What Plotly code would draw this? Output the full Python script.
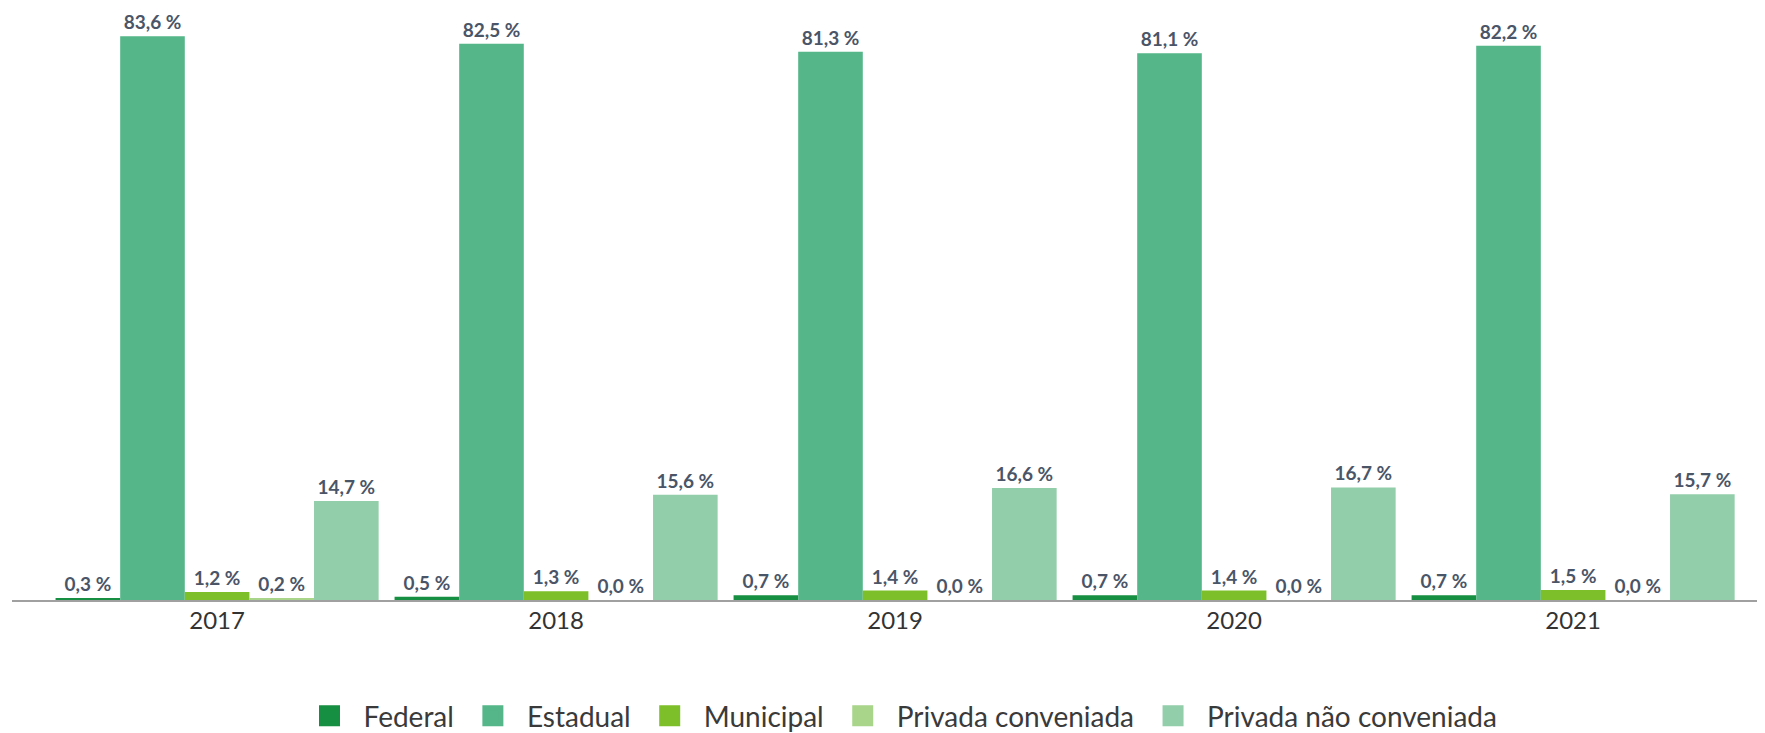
import plotly.graph_objects as go

years = ["2017", "2018", "2019", "2020", "2021"]
series_names = ["Federal", "Estadual", "Municipal", "Privada conveniada", "Privada não conveniada"]
federal = [0.3, 0.5, 0.7, 0.7, 0.7]
estadual = [83.6, 82.5, 81.3, 81.1, 82.2]
municipal = [1.2, 1.3, 1.4, 1.4, 1.5]
privada_conv = [0.2, 0.0, 0.0, 0.0, 0.0]
privada_nao_conv = [14.7, 15.6, 16.6, 16.7, 15.7]

colors = ["#178f42", "#55b689", "#7dbf2a", "#a8d58a", "#93ceab"]
values = [federal, estadual, municipal, privada_conv, privada_nao_conv]

x_pos = list(range(len(years)))

# The page body adds an 8px offset, so the figure is 8px smaller than the window.
FIG_W, FIG_H = 1757, 725

fig = go.Figure()
for name, vals, col in zip(series_names, values, colors):
    fig.add_trace(go.Bar(
        x=x_pos, y=vals, name=name,
        marker=dict(color=col, line=dict(width=0)),
        text=[f"{v:.1f} %".replace(".", ",") for v in vals],
        textposition="outside",
        textfont=dict(family="Lato", size=19, color="#4a5568", weight="bold"),
        cliponaxis=False,
        showlegend=False,
    ))
    fig.add_trace(go.Scatter(
        x=[None], y=[None], mode="markers", name=name,
        marker=dict(symbol="square", size=16, color=col, line=dict(color=col, width=5)),
        showlegend=True,
    ))

fig.update_layout(
    width=FIG_W, height=FIG_H,
    margin=dict(l=4, r=0, t=2, b=133),
    paper_bgcolor="white", plot_bgcolor="white",
    barmode="group", bargap=0.047, bargroupgap=0,
    font=dict(family="Lato", color="#333333"),
    legend=dict(
        orientation="h", xref="paper", x=0.506, xanchor="center",
        yref="container", y=(FIG_H - 708) / FIG_H, yanchor="middle",
        font=dict(family="Lato", size=28, color="#3a3a3a"),
        itemwidth=58,
    ),
    xaxis=dict(
        range=[-0.605, 4.566],
        tickmode="array", tickvals=x_pos, ticktext=years,
        showline=True, linecolor="#a0a0a0", linewidth=2,
        showgrid=False, zeroline=False,
        ticks="", ticklabelstandoff=-2,
        tickfont=dict(family="Lato", size=24, color="#333333"),
    ),
    yaxis=dict(range=[0, 87.5], visible=False, showgrid=False, zeroline=False),
)

fig.write_html("out.html")
